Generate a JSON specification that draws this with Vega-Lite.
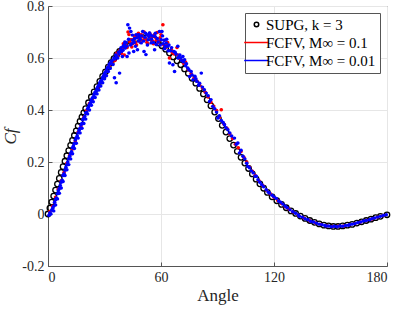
{
  "$schema": "https://vega.github.io/schema/vega-lite/v6.json",
  "autosize": {"type": "none"},
  "padding": {"left": 48, "top": 6, "right": 12, "bottom": 43},
  "width": 339,
  "height": 260,
  "background": "white",
  "config": {
    "view": {"stroke": "#555", "strokeWidth": 1},
    "font": "Liberation Serif",
    "axis": {
      "labelFont": "Liberation Serif",
      "titleFont": "Liberation Serif",
      "labelFontSize": 14,
      "labelColor": "#262626",
      "titleColor": "#262626",
      "domainColor": "#555",
      "tickColor": "#555",
      "gridColor": "#e6e6e6",
      "tickSize": -4,
      "labelPadding": 8
    }
  },
  "datasets": {
    "supg": [
      {"angle":0,"cf":0.000,"series":"S"},{"angle":1,"cf":0.023,"series":"S"},{"angle":2,"cf":0.046,"series":"S"},{"angle":3,"cf":0.069,"series":"S"},{"angle":4,"cf":0.092,"series":"S"},{"angle":5,"cf":0.115,"series":"S"},{"angle":6,"cf":0.137,"series":"S"},{"angle":7,"cf":0.160,"series":"S"},{"angle":8,"cf":0.182,"series":"S"},{"angle":9,"cf":0.203,"series":"S"},{"angle":10,"cf":0.224,"series":"S"},{"angle":11,"cf":0.244,"series":"S"},{"angle":12,"cf":0.264,"series":"S"},{"angle":13,"cf":0.283,"series":"S"},{"angle":14,"cf":0.302,"series":"S"},{"angle":15,"cf":0.320,"series":"S"},{"angle":16,"cf":0.338,"series":"S"},{"angle":17,"cf":0.356,"series":"S"},{"angle":18,"cf":0.373,"series":"S"},{"angle":19,"cf":0.389,"series":"S"},{"angle":20,"cf":0.405,"series":"S"},
      {"angle":21.5,"cf":0.428,"series":"S"},{"angle":23,"cf":0.450,"series":"S"},{"angle":24.5,"cf":0.470,"series":"S"},{"angle":26,"cf":0.490,"series":"S"},{"angle":27.5,"cf":0.510,"series":"S"},{"angle":29,"cf":0.529,"series":"S"},{"angle":30.5,"cf":0.547,"series":"S"},{"angle":32,"cf":0.565,"series":"S"},{"angle":33.5,"cf":0.582,"series":"S"},{"angle":35,"cf":0.598,"series":"S"},{"angle":36.5,"cf":0.613,"series":"S"},{"angle":38,"cf":0.625,"series":"S"},
      {"angle":41,"cf":0.647,"series":"S"},{"angle":44,"cf":0.663,"series":"S"},{"angle":47,"cf":0.674,"series":"S"},{"angle":50,"cf":0.679,"series":"S"},{"angle":53,"cf":0.678,"series":"S"},{"angle":56,"cf":0.670,"series":"S"},
      {"angle":58.5,"cf":0.658,"series":"S"},{"angle":60.5,"cf":0.647,"series":"S"},{"angle":62.5,"cf":0.634,"series":"S"},{"angle":64.5,"cf":0.619,"series":"S"},{"angle":66.5,"cf":0.604,"series":"S"},{"angle":68.5,"cf":0.589,"series":"S"},{"angle":70.5,"cf":0.574,"series":"S"},{"angle":72.5,"cf":0.558,"series":"S"},{"angle":74.5,"cf":0.541,"series":"S"},{"angle":76.5,"cf":0.522,"series":"S"},{"angle":78.5,"cf":0.503,"series":"S"},{"angle":80.5,"cf":0.483,"series":"S"},{"angle":82.5,"cf":0.462,"series":"S"},{"angle":84.5,"cf":0.439,"series":"S"},{"angle":86.5,"cf":0.416,"series":"S"},{"angle":88.5,"cf":0.392,"series":"S"},{"angle":90.5,"cf":0.367,"series":"S"},{"angle":92.5,"cf":0.341,"series":"S"},{"angle":94.5,"cf":0.315,"series":"S"},{"angle":96.5,"cf":0.290,"series":"S"},{"angle":98.5,"cf":0.265,"series":"S"},{"angle":100.5,"cf":0.241,"series":"S"},{"angle":102.5,"cf":0.218,"series":"S"},{"angle":104.5,"cf":0.196,"series":"S"},{"angle":106.5,"cf":0.175,"series":"S"},{"angle":108.5,"cf":0.154,"series":"S"},{"angle":110.5,"cf":0.134,"series":"S"},{"angle":112.5,"cf":0.116,"series":"S"},{"angle":114.5,"cf":0.099,"series":"S"},{"angle":116.5,"cf":0.083,"series":"S"},
      {"angle":119,"cf":0.066,"series":"S"},{"angle":121.5,"cf":0.051,"series":"S"},{"angle":124,"cf":0.037,"series":"S"},{"angle":126.5,"cf":0.024,"series":"S"},{"angle":129,"cf":0.012,"series":"S"},{"angle":131.5,"cf":0.002,"series":"S"},{"angle":134,"cf":-0.008,"series":"S"},{"angle":136.5,"cf":-0.017,"series":"S"},{"angle":139,"cf":-0.025,"series":"S"},{"angle":141.5,"cf":-0.032,"series":"S"},{"angle":144,"cf":-0.038,"series":"S"},{"angle":146.5,"cf":-0.043,"series":"S"},{"angle":149,"cf":-0.046,"series":"S"},{"angle":151.5,"cf":-0.048,"series":"S"},{"angle":154,"cf":-0.048,"series":"S"},{"angle":156.5,"cf":-0.046,"series":"S"},{"angle":159,"cf":-0.043,"series":"S"},{"angle":161.5,"cf":-0.040,"series":"S"},{"angle":164,"cf":-0.035,"series":"S"},{"angle":166.5,"cf":-0.030,"series":"S"},{"angle":169,"cf":-0.025,"series":"S"},{"angle":171.5,"cf":-0.020,"series":"S"},{"angle":174,"cf":-0.014,"series":"S"},{"angle":176.5,"cf":-0.009,"series":"S"},{"angle":180,"cf":-0.003,"series":"S"}
    ],
    "fcfv": [
      {"angle":1,"cf":0.010,"series":"R"},{"angle":2.5,"cf":0.030,"series":"R"},{"angle":4,"cf":0.065,"series":"R"},{"angle":5.5,"cf":0.095,"series":"R"},{"angle":7,"cf":0.128,"series":"R"},{"angle":8.5,"cf":0.160,"series":"R"},{"angle":10,"cf":0.195,"series":"R"},{"angle":11.5,"cf":0.225,"series":"R"},{"angle":13,"cf":0.250,"series":"R"},{"angle":14.5,"cf":0.282,"series":"R"},{"angle":16,"cf":0.315,"series":"R"},{"angle":17.5,"cf":0.338,"series":"R"},{"angle":19,"cf":0.372,"series":"R"},{"angle":20.5,"cf":0.398,"series":"R"},{"angle":22,"cf":0.425,"series":"R"},{"angle":23.5,"cf":0.442,"series":"R"},{"angle":25,"cf":0.465,"series":"R"},{"angle":26.5,"cf":0.486,"series":"R"},{"angle":28,"cf":0.508,"series":"R"},{"angle":29.5,"cf":0.528,"series":"R"},{"angle":31,"cf":0.550,"series":"R"},{"angle":32.5,"cf":0.570,"series":"R"},{"angle":34,"cf":0.582,"series":"R"},{"angle":35.5,"cf":0.590,"series":"R"},{"angle":36.5,"cf":0.618,"series":"R"},{"angle":37,"cf":0.608,"series":"R"},{"angle":38,"cf":0.628,"series":"R"},{"angle":39,"cf":0.618,"series":"R"},{"angle":39.5,"cf":0.640,"series":"R"},{"angle":40,"cf":0.655,"series":"R"},{"angle":40.5,"cf":0.612,"series":"R"},{"angle":41.5,"cf":0.648,"series":"R"},{"angle":42,"cf":0.640,"series":"R"},{"angle":42.5,"cf":0.700,"series":"R"},{"angle":43,"cf":0.690,"series":"R"},{"angle":43.5,"cf":0.662,"series":"R"},{"angle":44,"cf":0.670,"series":"R"},{"angle":44.5,"cf":0.642,"series":"R"},{"angle":45,"cf":0.655,"series":"R"},{"angle":45.5,"cf":0.672,"series":"R"},{"angle":46,"cf":0.685,"series":"R"},{"angle":46.5,"cf":0.660,"series":"R"},{"angle":47,"cf":0.650,"series":"R"},{"angle":47.5,"cf":0.685,"series":"R"},{"angle":48,"cf":0.695,"series":"R"},{"angle":48.5,"cf":0.670,"series":"R"},{"angle":49,"cf":0.660,"series":"R"},{"angle":49.5,"cf":0.690,"series":"R"},{"angle":50,"cf":0.682,"series":"R"},{"angle":50.5,"cf":0.668,"series":"R"},{"angle":51,"cf":0.700,"series":"R"},{"angle":51.5,"cf":0.676,"series":"R"},{"angle":52,"cf":0.672,"series":"R"},{"angle":52.5,"cf":0.660,"series":"R"},{"angle":53,"cf":0.655,"series":"R"},{"angle":53.5,"cf":0.685,"series":"R"},{"angle":54,"cf":0.695,"series":"R"},{"angle":54.5,"cf":0.672,"series":"R"},{"angle":55,"cf":0.680,"series":"R"},{"angle":55.5,"cf":0.665,"series":"R"},{"angle":56,"cf":0.655,"series":"R"},{"angle":56.5,"cf":0.690,"series":"R"},{"angle":57,"cf":0.680,"series":"R"},{"angle":57.5,"cf":0.668,"series":"R"},{"angle":58,"cf":0.698,"series":"R"},{"angle":58.5,"cf":0.660,"series":"R"},{"angle":59,"cf":0.665,"series":"R"},{"angle":59.5,"cf":0.678,"series":"R"},{"angle":60,"cf":0.690,"series":"R"},{"angle":61,"cf":0.728,"series":"R"},{"angle":61.5,"cf":0.650,"series":"R"},{"angle":62,"cf":0.668,"series":"R"},{"angle":62.5,"cf":0.640,"series":"R"},{"angle":63,"cf":0.648,"series":"R"},{"angle":63.5,"cf":0.660,"series":"R"},{"angle":64.5,"cf":0.600,"series":"R"},{"angle":65.5,"cf":0.632,"series":"R"},{"angle":66,"cf":0.620,"series":"R"},{"angle":67,"cf":0.615,"series":"R"},{"angle":68.5,"cf":0.640,"series":"R"},{"angle":69,"cf":0.612,"series":"R"},{"angle":70,"cf":0.598,"series":"R"},{"angle":71.5,"cf":0.590,"series":"R"},{"angle":72,"cf":0.580,"series":"R"},{"angle":73,"cf":0.585,"series":"R"},{"angle":74.5,"cf":0.555,"series":"R"},{"angle":76,"cf":0.540,"series":"R"},{"angle":77.5,"cf":0.522,"series":"R"},{"angle":79,"cf":0.512,"series":"R"},{"angle":80.5,"cf":0.495,"series":"R"},{"angle":82,"cf":0.485,"series":"R"},{"angle":83.5,"cf":0.468,"series":"R"},{"angle":85,"cf":0.450,"series":"R"},{"angle":86.5,"cf":0.430,"series":"R"},{"angle":88,"cf":0.415,"series":"R"},{"angle":89.5,"cf":0.398,"series":"R"},{"angle":91,"cf":0.372,"series":"R"},{"angle":92,"cf":0.401,"series":"R"},{"angle":93.5,"cf":0.345,"series":"R"},{"angle":95,"cf":0.330,"series":"R"},{"angle":96.5,"cf":0.308,"series":"R"},{"angle":98,"cf":0.290,"series":"R"},{"angle":99.5,"cf":0.268,"series":"R"},{"angle":101,"cf":0.255,"series":"R"},{"angle":102.5,"cf":0.240,"series":"R"},{"angle":104,"cf":0.218,"series":"R"},{"angle":105.5,"cf":0.200,"series":"R"},{"angle":107,"cf":0.180,"series":"R"},{"angle":108.5,"cf":0.165,"series":"R"},{"angle":110,"cf":0.148,"series":"R"},{"angle":112,"cf":0.128,"series":"R"},{"angle":114,"cf":0.110,"series":"R"},{"angle":116,"cf":0.092,"series":"R"},{"angle":118,"cf":0.078,"series":"R"},{"angle":120,"cf":0.064,"series":"R"},{"angle":122,"cf":0.052,"series":"R"},{"angle":124,"cf":0.040,"series":"R"},{"angle":126,"cf":0.028,"series":"R"},{"angle":128,"cf":0.018,"series":"R"},{"angle":130,"cf":0.008,"series":"R"},{"angle":133,"cf":-0.005,"series":"R"},{"angle":136,"cf":-0.016,"series":"R"},{"angle":139,"cf":-0.026,"series":"R"},{"angle":142,"cf":-0.034,"series":"R"},{"angle":145,"cf":-0.040,"series":"R"},{"angle":148,"cf":-0.045,"series":"R"},{"angle":151,"cf":-0.048,"series":"R"},{"angle":154,"cf":-0.047,"series":"R"},{"angle":157,"cf":-0.046,"series":"R"},{"angle":160,"cf":-0.042,"series":"R"},{"angle":163,"cf":-0.037,"series":"R"},{"angle":166,"cf":-0.031,"series":"R"},{"angle":169,"cf":-0.025,"series":"R"},{"angle":172,"cf":-0.019,"series":"R"},{"angle":175,"cf":-0.012,"series":"R"},{"angle":178,"cf":-0.006,"series":"R"},
      {"angle":0.5,"cf":-0.005,"series":"B"},{"angle":1,"cf":0.005,"series":"B"},{"angle":1.5,"cf":0.000,"series":"B"},{"angle":2,"cf":0.015,"series":"B"},{"angle":2.5,"cf":0.022,"series":"B"},{"angle":3,"cf":0.030,"series":"B"},{"angle":3,"cf":0.012,"series":"B"},{"angle":3.5,"cf":0.045,"series":"B"},{"angle":4,"cf":0.055,"series":"B"},{"angle":4,"cf":0.035,"series":"B"},{"angle":4.5,"cf":0.062,"series":"B"},{"angle":5,"cf":0.078,"series":"B"},{"angle":5,"cf":0.058,"series":"B"},{"angle":5.5,"cf":0.090,"series":"B"},{"angle":6,"cf":0.098,"series":"B"},{"angle":6,"cf":0.080,"series":"B"},{"angle":6.5,"cf":0.110,"series":"B"},{"angle":7,"cf":0.122,"series":"B"},{"angle":7,"cf":0.100,"series":"B"},{"angle":7.5,"cf":0.130,"series":"B"},{"angle":8,"cf":0.148,"series":"B"},{"angle":8,"cf":0.125,"series":"B"},{"angle":8.5,"cf":0.155,"series":"B"},{"angle":9,"cf":0.168,"series":"B"},{"angle":9,"cf":0.148,"series":"B"},{"angle":9.5,"cf":0.180,"series":"B"},{"angle":10,"cf":0.190,"series":"B"},{"angle":10,"cf":0.170,"series":"B"},{"angle":10.5,"cf":0.200,"series":"B"},{"angle":11,"cf":0.212,"series":"B"},{"angle":11,"cf":0.190,"series":"B"},{"angle":11.5,"cf":0.222,"series":"B"},{"angle":12,"cf":0.232,"series":"B"},{"angle":12,"cf":0.212,"series":"B"},{"angle":12.5,"cf":0.240,"series":"B"},{"angle":13,"cf":0.255,"series":"B"},{"angle":13,"cf":0.232,"series":"B"},{"angle":13.5,"cf":0.262,"series":"B"},{"angle":14,"cf":0.272,"series":"B"},{"angle":14,"cf":0.252,"series":"B"},{"angle":14.5,"cf":0.285,"series":"B"},{"angle":15,"cf":0.293,"series":"B"},{"angle":15,"cf":0.272,"series":"B"},{"angle":15.5,"cf":0.300,"series":"B"},{"angle":16,"cf":0.312,"series":"B"},{"angle":16,"cf":0.292,"series":"B"},{"angle":16.5,"cf":0.322,"series":"B"},{"angle":17,"cf":0.330,"series":"B"},{"angle":17,"cf":0.312,"series":"B"},{"angle":17.5,"cf":0.342,"series":"B"},{"angle":18,"cf":0.348,"series":"B"},{"angle":18,"cf":0.330,"series":"B"},{"angle":18.5,"cf":0.362,"series":"B"},{"angle":19,"cf":0.368,"series":"B"},{"angle":19,"cf":0.348,"series":"B"},{"angle":19.5,"cf":0.375,"series":"B"},{"angle":20,"cf":0.388,"series":"B"},{"angle":20,"cf":0.365,"series":"B"},{"angle":20.5,"cf":0.392,"series":"B"},{"angle":21,"cf":0.405,"series":"B"},{"angle":21,"cf":0.385,"series":"B"},{"angle":21.5,"cf":0.412,"series":"B"},{"angle":22,"cf":0.420,"series":"B"},{"angle":22,"cf":0.400,"series":"B"},{"angle":22.5,"cf":0.428,"series":"B"},{"angle":23,"cf":0.438,"series":"B"},{"angle":23,"cf":0.418,"series":"B"},{"angle":23.5,"cf":0.445,"series":"B"},{"angle":24,"cf":0.450,"series":"B"},{"angle":24,"cf":0.432,"series":"B"},{"angle":24.5,"cf":0.460,"series":"B"},{"angle":25,"cf":0.468,"series":"B"},{"angle":25,"cf":0.448,"series":"B"},{"angle":25.5,"cf":0.472,"series":"B"},{"angle":26,"cf":0.482,"series":"B"},{"angle":26,"cf":0.462,"series":"B"},{"angle":26.5,"cf":0.490,"series":"B"},{"angle":27,"cf":0.495,"series":"B"},{"angle":27,"cf":0.477,"series":"B"},{"angle":27.5,"cf":0.505,"series":"B"},{"angle":28,"cf":0.512,"series":"B"},{"angle":28,"cf":0.492,"series":"B"},{"angle":28.5,"cf":0.515,"series":"B"},{"angle":29,"cf":0.525,"series":"B"},{"angle":29,"cf":0.505,"series":"B"},{"angle":29.5,"cf":0.532,"series":"B"},{"angle":30,"cf":0.540,"series":"B"},{"angle":30,"cf":0.520,"series":"B"},{"angle":30.5,"cf":0.545,"series":"B"},{"angle":31,"cf":0.552,"series":"B"},{"angle":31,"cf":0.532,"series":"B"},{"angle":31.5,"cf":0.562,"series":"B"},{"angle":32,"cf":0.566,"series":"B"},{"angle":32,"cf":0.548,"series":"B"},{"angle":32.5,"cf":0.575,"series":"B"},{"angle":33,"cf":0.580,"series":"B"},{"angle":33,"cf":0.560,"series":"B"},
      {"angle":33.5,"cf":0.585,"series":"B"},{"angle":34,"cf":0.590,"series":"B"},{"angle":34.5,"cf":0.575,"series":"B"},{"angle":35,"cf":0.600,"series":"B"},{"angle":35.3,"cf":0.524,"series":"B"},{"angle":35.5,"cf":0.596,"series":"B"},{"angle":36,"cf":0.612,"series":"B"},{"angle":36.2,"cf":0.505,"series":"B"},{"angle":36.5,"cf":0.605,"series":"B"},{"angle":37,"cf":0.600,"series":"B"},{"angle":37.5,"cf":0.622,"series":"B"},{"angle":37.8,"cf":0.615,"series":"B"},{"angle":38,"cf":0.542,"series":"B"},{"angle":38.5,"cf":0.630,"series":"B"},{"angle":38.8,"cf":0.640,"series":"B"},{"angle":39,"cf":0.625,"series":"B"},{"angle":39.5,"cf":0.606,"series":"B"},{"angle":39.8,"cf":0.630,"series":"B"},{"angle":40,"cf":0.645,"series":"B"},{"angle":40.5,"cf":0.652,"series":"B"},{"angle":40.8,"cf":0.662,"series":"B"},{"angle":41,"cf":0.638,"series":"B"},{"angle":41.5,"cf":0.660,"series":"B"},{"angle":41.8,"cf":0.645,"series":"B"},{"angle":42,"cf":0.606,"series":"B"},{"angle":42.4,"cf":0.728,"series":"B"},{"angle":42.8,"cf":0.672,"series":"B"},{"angle":43,"cf":0.619,"series":"B"},{"angle":43.3,"cf":0.715,"series":"B"},{"angle":43.8,"cf":0.650,"series":"B"},{"angle":44,"cf":0.702,"series":"B"},{"angle":44.5,"cf":0.655,"series":"B"},{"angle":44.8,"cf":0.688,"series":"B"},{"angle":45,"cf":0.668,"series":"B"},{"angle":45.5,"cf":0.625,"series":"B"},{"angle":45.8,"cf":0.660,"series":"B"},{"angle":46,"cf":0.675,"series":"B"},{"angle":46.5,"cf":0.645,"series":"B"},{"angle":46.8,"cf":0.690,"series":"B"},{"angle":47.2,"cf":0.678,"series":"B"},{"angle":47.5,"cf":0.632,"series":"B"},{"angle":48,"cf":0.665,"series":"B"},{"angle":48.2,"cf":0.690,"series":"B"},{"angle":48.5,"cf":0.682,"series":"B"},{"angle":49,"cf":0.672,"series":"B"},{"angle":49.5,"cf":0.658,"series":"B"},{"angle":49.8,"cf":0.685,"series":"B"},{"angle":50.3,"cf":0.702,"series":"B"},{"angle":50.8,"cf":0.665,"series":"B"},{"angle":51,"cf":0.625,"series":"B"},{"angle":51.5,"cf":0.680,"series":"B"},{"angle":51.8,"cf":0.695,"series":"B"},{"angle":52,"cf":0.613,"series":"B"},{"angle":52.5,"cf":0.690,"series":"B"},{"angle":52.8,"cf":0.650,"series":"B"},{"angle":53.2,"cf":0.670,"series":"B"},{"angle":53.6,"cf":0.682,"series":"B"},{"angle":53.9,"cf":0.696,"series":"B"},{"angle":54.3,"cf":0.690,"series":"B"},{"angle":54.8,"cf":0.658,"series":"B"},{"angle":55,"cf":0.672,"series":"B"},{"angle":55.5,"cf":0.685,"series":"B"},{"angle":56,"cf":0.660,"series":"B"},{"angle":56.6,"cf":0.632,"series":"B"},{"angle":56.8,"cf":0.683,"series":"B"},{"angle":57,"cf":0.695,"series":"B"},{"angle":57.5,"cf":0.652,"series":"B"},{"angle":58,"cf":0.675,"series":"B"},{"angle":58.5,"cf":0.662,"series":"B"},{"angle":59.2,"cf":0.702,"series":"B"},{"angle":59.6,"cf":0.650,"series":"B"},{"angle":60.1,"cf":0.670,"series":"B"},{"angle":60.5,"cf":0.702,"series":"B"},{"angle":60.8,"cf":0.685,"series":"B"},{"angle":61.2,"cf":0.655,"series":"B"},{"angle":61.6,"cf":0.668,"series":"B"},{"angle":61.9,"cf":0.636,"series":"B"},{"angle":62.3,"cf":0.645,"series":"B"},{"angle":62.8,"cf":0.658,"series":"B"},{"angle":63,"cf":0.672,"series":"B"},{"angle":63.5,"cf":0.645,"series":"B"},{"angle":63.8,"cf":0.628,"series":"B"},{"angle":64.2,"cf":0.650,"series":"B"},{"angle":64.5,"cf":0.581,"series":"B"},{"angle":65,"cf":0.628,"series":"B"},{"angle":65.6,"cf":0.640,"series":"B"},{"angle":66.3,"cf":0.574,"series":"B"},{"angle":66.8,"cf":0.625,"series":"B"},{"angle":67.2,"cf":0.548,"series":"B"},{"angle":67.5,"cf":0.622,"series":"B"},{"angle":68,"cf":0.615,"series":"B"},{"angle":68.9,"cf":0.645,"series":"B"},{"angle":69,"cf":0.600,"series":"B"},{"angle":69.5,"cf":0.605,"series":"B"},{"angle":70,"cf":0.612,"series":"B"},{"angle":70.5,"cf":0.600,"series":"B"},{"angle":71,"cf":0.590,"series":"B"},{"angle":71.6,"cf":0.606,"series":"B"},{"angle":72,"cf":0.585,"series":"B"},{"angle":72.5,"cf":0.593,"series":"B"},{"angle":73,"cf":0.570,"series":"B"},{"angle":73.5,"cf":0.578,"series":"B"},{"angle":74.2,"cf":0.562,"series":"B"},{"angle":74.8,"cf":0.555,"series":"B"},{"angle":75.2,"cf":0.529,"series":"B"},{"angle":76,"cf":0.548,"series":"B"},{"angle":76.5,"cf":0.535,"series":"B"},{"angle":77,"cf":0.516,"series":"B"},{"angle":78,"cf":0.530,"series":"B"},{"angle":78.5,"cf":0.520,"series":"B"},{"angle":79,"cf":0.510,"series":"B"},{"angle":80,"cf":0.495,"series":"B"},{"angle":80.5,"cf":0.503,"series":"B"},{"angle":81.4,"cf":0.542,"series":"B"},{"angle":82,"cf":0.488,"series":"B"},{"angle":83,"cf":0.478,"series":"B"},{"angle":84,"cf":0.465,"series":"B"},{"angle":85,"cf":0.455,"series":"B"},{"angle":85.8,"cf":0.433,"series":"B"},{"angle":86.5,"cf":0.440,"series":"B"},{"angle":87.5,"cf":0.414,"series":"B"},{"angle":88.5,"cf":0.405,"series":"B"},{"angle":89.5,"cf":0.392,"series":"B"},{"angle":90.2,"cf":0.369,"series":"B"},{"angle":91,"cf":0.378,"series":"B"},{"angle":92,"cf":0.360,"series":"B"},{"angle":93,"cf":0.352,"series":"B"},{"angle":93.7,"cf":0.343,"series":"B"},{"angle":94.5,"cf":0.332,"series":"B"},{"angle":95.5,"cf":0.324,"series":"B"},{"angle":96.5,"cf":0.312,"series":"B"},{"angle":97.5,"cf":0.300,"series":"B"},{"angle":99,"cf":0.292,"series":"B"},{"angle":100,"cf":0.268,"series":"B"},{"angle":100.8,"cf":0.273,"series":"B"},{"angle":101.7,"cf":0.235,"series":"B"},{"angle":102.5,"cf":0.245,"series":"B"},{"angle":103.5,"cf":0.222,"series":"B"},{"angle":104.5,"cf":0.212,"series":"B"},{"angle":105.5,"cf":0.195,"series":"B"},{"angle":106.1,"cf":0.183,"series":"B"},{"angle":107,"cf":0.178,"series":"B"},{"angle":108,"cf":0.166,"series":"B"},{"angle":109,"cf":0.158,"series":"B"},{"angle":110,"cf":0.145,"series":"B"},{"angle":110.6,"cf":0.145,"series":"B"},{"angle":111.5,"cf":0.132,"series":"B"},{"angle":112.5,"cf":0.122,"series":"B"},{"angle":113.5,"cf":0.113,"series":"B"},{"angle":114.5,"cf":0.105,"series":"B"},{"angle":115.9,"cf":0.093,"series":"B"},{"angle":117,"cf":0.084,"series":"B"},{"angle":117.6,"cf":0.081,"series":"B"},{"angle":119,"cf":0.072,"series":"B"},{"angle":120,"cf":0.066,"series":"B"},{"angle":121.2,"cf":0.060,"series":"B"},{"angle":122.5,"cf":0.050,"series":"B"},{"angle":123.5,"cf":0.045,"series":"B"},{"angle":124.7,"cf":0.038,"series":"B"},{"angle":126,"cf":0.030,"series":"B"},{"angle":127,"cf":0.024,"series":"B"},{"angle":128.5,"cf":0.016,"series":"B"},{"angle":130,"cf":0.009,"series":"B"},{"angle":131.5,"cf":0.003,"series":"B"},{"angle":133,"cf":-0.004,"series":"B"},{"angle":133.5,"cf":-0.009,"series":"B"},{"angle":135,"cf":-0.012,"series":"B"},{"angle":136.5,"cf":-0.018,"series":"B"},{"angle":138,"cf":-0.022,"series":"B"},{"angle":139.5,"cf":-0.028,"series":"B"},{"angle":141,"cf":-0.031,"series":"B"},{"angle":142.5,"cf":-0.035,"series":"B"},{"angle":144,"cf":-0.039,"series":"B"},{"angle":145.5,"cf":-0.041,"series":"B"},{"angle":147,"cf":-0.044,"series":"B"},{"angle":147.7,"cf":-0.046,"series":"B"},{"angle":149,"cf":-0.046,"series":"B"},{"angle":150.5,"cf":-0.049,"series":"B"},{"angle":152,"cf":-0.047,"series":"B"},{"angle":153.5,"cf":-0.049,"series":"B"},{"angle":155,"cf":-0.046,"series":"B"},{"angle":156.5,"cf":-0.047,"series":"B"},{"angle":158,"cf":-0.044,"series":"B"},{"angle":159.5,"cf":-0.043,"series":"B"},{"angle":160.1,"cf":-0.041,"series":"B"},{"angle":161.5,"cf":-0.039,"series":"B"},{"angle":163,"cf":-0.037,"series":"B"},{"angle":164.5,"cf":-0.033,"series":"B"},{"angle":166,"cf":-0.031,"series":"B"},{"angle":167.5,"cf":-0.027,"series":"B"},{"angle":169,"cf":-0.025,"series":"B"},{"angle":170.7,"cf":-0.022,"series":"B"},{"angle":172,"cf":-0.018,"series":"B"},{"angle":173.5,"cf":-0.015,"series":"B"},{"angle":175,"cf":-0.012,"series":"B"},{"angle":176.5,"cf":-0.009,"series":"B"},{"angle":178,"cf":-0.006,"series":"B"},{"angle":179.6,"cf":-0.003,"series":"B"}
    ]
  },
  "encoding": {
    "x": {
      "field": "angle", "type": "quantitative",
      "scale": {"domain": [0, 180], "nice": false},
      "axis": {"values": [0, 60, 120, 180], "title": "Angle", "titleFontSize": 17, "titleFontWeight": "normal", "titlePadding": 3, "grid": true}
    },
    "y": {
      "field": "cf", "type": "quantitative",
      "scale": {"domain": [-0.2, 0.8], "nice": false},
      "axis": {"values": [-0.2, 0, 0.2, 0.4, 0.6, 0.8], "labelExpr": "datum.value == 0 ? '0' : (datum.value < 0 ? '-' + format(-datum.value, '.1f') : format(datum.value, '.1f'))", "title": "Cf", "titleFontSize": 17, "titleFontStyle": "italic", "titleFontWeight": "normal", "titlePadding": 2, "grid": true}
    },
    "color": {
      "field": "series", "type": "nominal",
      "scale": {"domain": ["S", "R", "B"], "range": ["#000000", "#ff0000", "#0000ff"]},
      "legend": {"title": null, "orient": "top-right", "offset": 7, "fillColor": "white", "strokeColor": "#555", "padding": 4, "labelFont": "Liberation Serif", "labelFontSize": 15, "labelColor": "#000", "symbolSize": 20, "symbolStrokeWidth": 1.5, "labelOffset": 2, "rowPadding": 2, "labelLimit": 300,
        "labelExpr": "datum.label == 'S' ? 'SUPG, k = 3' : (datum.label == 'R' ? 'FCFV, M∞ = 0.1' : 'FCFV, M∞ = 0.01')"}
    },
    "shape": {
      "field": "series", "type": "nominal",
      "scale": {"domain": ["S", "R", "B"], "range": ["circle", "M-5.5,0H5.5", "M-5.5,0H5.5"]}
    }
  },
  "layer": [
    {
      "data": {"name": "supg"},
      "mark": {"type": "point", "filled": false, "size": 30, "strokeWidth": 1.3, "opacity": 1}
    },
    {
      "data": {"name": "fcfv"},
      "mark": {"type": "point", "filled": false, "size": 0.002, "strokeWidth": 3.4, "strokeCap": "round", "opacity": 1}
    }
  ]
}
